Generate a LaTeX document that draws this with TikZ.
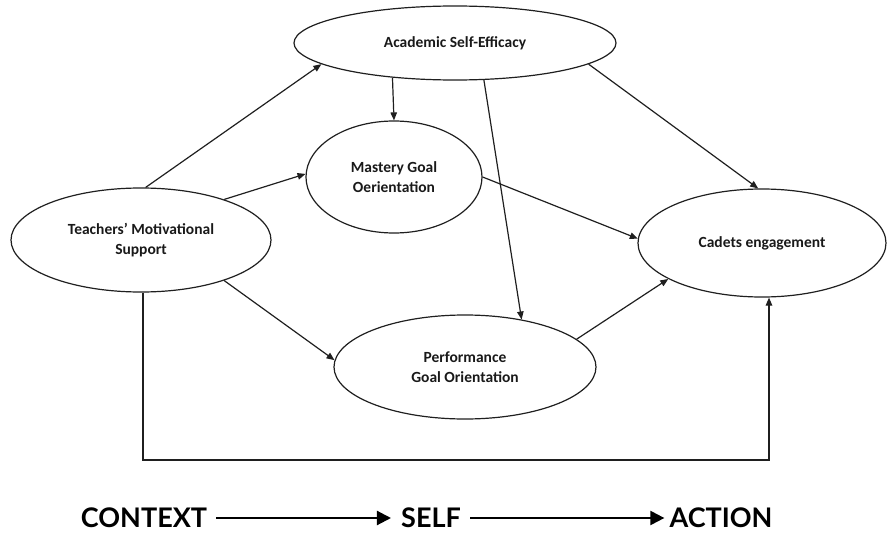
\documentclass[tikz,border=0pt]{standalone}
\usepackage{fontspec}
\setmainfont{Carlito}
\newfontfamily\gill{Lato}
\usetikzlibrary{arrows.meta,shapes.geometric}
\begin{document}
\begin{tikzpicture}[x=1pt,y=-1pt,
  ell/.style={draw=black!88, line width=1.2pt, ellipse, inner sep=0pt, align=center,
              font=\fontsize{15.5}{20.5}\selectfont\bfseries, text=black!90},
  arr/.style={draw=black!88, line width=1.2pt, -{Triangle[length=8pt,width=6.5pt]}},
  big/.style={line width=2.2pt, -{Triangle[length=14pt,width=14pt]}},
  lab/.style={font=\gill\fontsize{27}{29}\selectfont\bfseries, inner sep=0pt}]
\useasboundingbox (0,0) rectangle (887,535);

\node[ell, minimum width=322pt, minimum height=74pt]  (ase) at (455,43)  {Academic Self-Efficacy};
\node[ell, minimum width=176pt, minimum height=112pt] (mgo) at (394,177) {Mastery Goal\\Oerientation};
\node[ell, minimum width=260pt, minimum height=104pt] (tms) at (141,240) {Teachers’ Motivational\\Support};
\node[ell, minimum width=248pt, minimum height=108pt] (ce)  at (762,243) {Cadets engagement};
\node[ell, minimum width=262pt, minimum height=104pt] (pgo) at (465,367) {Performance\\Goal Orientation};

\draw[arr] (tms.85.7) -- (ase.189.7);
\draw[arr] (tms.26) -- (mgo.178.7);
\draw[arr] (tms.-26.6) -- (pgo.177.8);
\draw[arr] (ase.209.3) -- (mgo.north);
\draw[arr] (ase.-52.4) -- (pgo.40.2);
\draw[arr] (ase.-9.4) -- (ce.94);
\draw[arr] (mgo.east) -- (ce.178.6);
\draw[arr] (pgo.14.8) -- (ce.201.3);

\coordinate (bot) at (0,460);
\coordinate (s1) at ([xshift=2pt]tms.south);
\coordinate (s2) at ([xshift=7pt]ce.south);
\draw[arr] (s1) -- (s1 |- bot) -| (s2);

\node[lab] (ctx)  at (144,518) {CONTEXT};
\node[lab] (self) at (431,518) {SELF};
\node[lab] (act)  at (721,518) {ACTION};
\draw[big, shorten <=9pt, shorten >=10pt] (ctx.east) -- (self.west);
\draw[big, shorten <=9pt, shorten >=5pt] (self.east) -- (act.west);
\end{tikzpicture}
\end{document}
